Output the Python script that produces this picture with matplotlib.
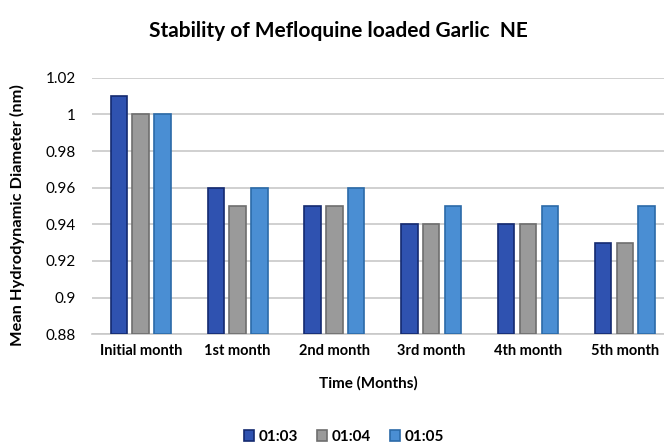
import matplotlib
matplotlib.use("Agg")
from matplotlib import pyplot as plt
import numpy as np

categories = ["Initial month", "1st month", "2nd month", "3rd month", "4th month", "5th month"]
series_names = ["01:03", "01:04", "01:05"]
ratio_13 = [1.01, 0.96, 0.95, 0.94, 0.94, 0.93]
ratio_14 = [1.00, 0.95, 0.95, 0.94, 0.94, 0.93]
ratio_15 = [1.00, 0.96, 0.96, 0.95, 0.95, 0.95]
y_ticks = [0.88, 0.9, 0.92, 0.94, 0.96, 0.98, 1, 1.02]

plt.rcParams["font.family"] = ["Lato", "DejaVu Sans"]

fig = plt.figure(figsize=(6.64, 4.45), dpi=100)
ax = fig.add_axes([0.139, 0.249, 0.875, 0.576])

x = np.arange(len(categories))
w = 0.17
off = 0.225
colors = ["#2f52b0", "#9a9a9a", "#4a8ed3"]
edges = ["#142a70", "#6e6e6e", "#2b6aa8"]
for i, vals in enumerate([ratio_13, ratio_14, ratio_15]):
    ax.bar(x + (i - 1) * off, np.array(vals) - 0.88, w, bottom=0.88,
           color=colors[i], edgecolor=edges[i], linewidth=1.2,
           label=series_names[i], zorder=3)

ax.set_ylim(0.88, 1.02)
ax.set_xlim(-0.5, len(categories) - 0.5)
ax.set_yticks(y_ticks)
ax.set_yticklabels(["0.88", "0.9", "0.92", "0.94", "0.96", "0.98", "1", "1.02"])
ax.set_xticks(x)
ax.set_xticklabels(categories, fontsize=10.5, fontweight="bold")
ax.tick_params(axis="y", labelsize=11, length=0, pad=12)
ax.tick_params(axis="x", length=0, pad=7)
ax.grid(axis="y", color="#c8c8c8", linewidth=1.2, zorder=0)
for s in ["top", "right", "left"]:
    ax.spines[s].set_visible(False)
ax.spines["bottom"].set_color("#c8c8c8")
ax.spines["bottom"].set_linewidth(1.2)

fig.text(0.509, 0.93, "Stability of Mefloquine loaded Garlic  NE", ha="center",
         va="center", fontsize=15, fontweight="bold")
fig.text(0.555, 0.138, "Time (Months)", ha="center", va="center",
         fontsize=11, fontweight="bold")
fig.text(0.027, 0.517, "Mean Hydrodynamic Diameter (nm)", ha="center",
         va="center", rotation=90, fontsize=11.8, fontweight="bold")

fig.legend(loc="center", bbox_to_anchor=(0.518, 0.018), ncol=3, frameon=False,
           handlelength=0.7, handleheight=0.7, handletextpad=0.3,
           columnspacing=1.2, prop={"weight": "bold", "size": 11})

fig.savefig("out.png", dpi=100)
